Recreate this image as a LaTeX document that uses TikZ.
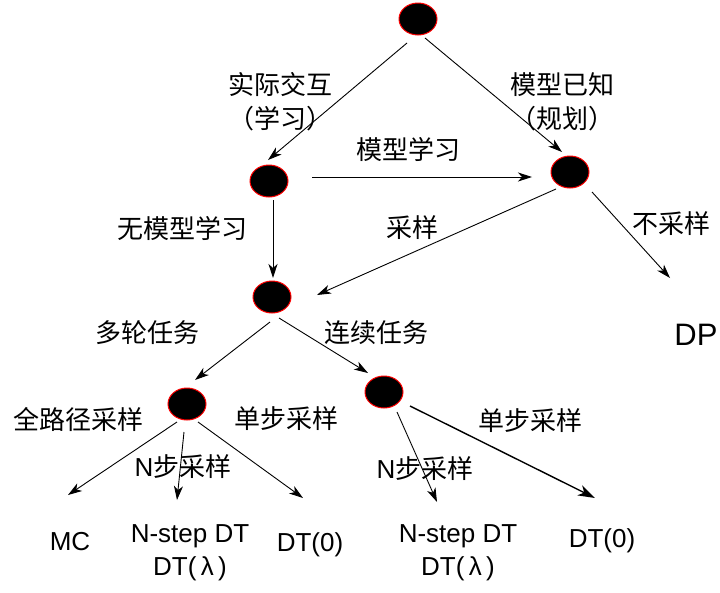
\documentclass[tikz,border=0pt]{standalone}
\usepackage{fontspec}
\setmainfont{Liberation Sans}
\newfontfamily\cjk{Noto Sans CJK SC}
\usetikzlibrary{shapes.geometric,arrows.meta}
\begin{document}
\begin{tikzpicture}[x=1pt,y=-1pt,
  state/.style={ellipse,draw=red,fill=black,line width=1pt,minimum width=38pt,minimum height=32pt,inner sep=0pt},
  lbl/.style={inner sep=0pt,font=\cjk\fontsize{26}{34}\selectfont,align=center},
  leaf/.style={inner sep=0pt,font=\fontsize{26}{33}\selectfont,align=center},
  arr/.style={line width=0.9pt,-{Stealth[length=14pt,width=9pt,inset=4pt]}},
  arrb/.style={line width=1.4pt,-{Stealth[length=17pt,width=11pt,inset=5pt]}}]
\useasboundingbox (0,0) rectangle (720,592);
% states
\node[state] (T) at (418,19) {};
\node[state] (L) at (269,181) {};
\node[state] (R) at (570,172) {};
\node[state] (M) at (272,297) {};
\node[state] (LL) at (187,404) {};
\node[state] (LR) at (384,392) {};
% leaves
\node[leaf] (MC) at (70,542) {MC};
\node[leaf] (NL) at (190,553) {N-step DT\\DT(\,λ\,)};
\node[leaf] (D0L) at (310,545) {DT(0)};
\node[leaf] (NR) at (458,553) {N-step DT\\DT(\,λ\,)};
\node[leaf] (D0R) at (602,541) {DT(0)};
\node[inner sep=0pt,font=\fontsize{31}{36}\selectfont] (DP) at (696,335) {DP};
% labels
\node[lbl] (l1) at (280,102) {实际交互\\（学习）};
\node[lbl] (l2) at (562,102) {模型已知\\（规划）};
\node[lbl] (l3) at (408,149) {模型学习};
\node[lbl] (l4) at (182,228) {无模型学习};
\node[lbl] (l5) at (412,228) {采样};
\node[lbl] (l6) at (671,224) {不采样};
\node[lbl] (l7) at (147,333) {多轮任务};
\node[lbl] (l8) at (376,333) {连续任务};
\node[lbl] (l9) at (78,419) {全路径采样};
\node[lbl] (l10) at (286,419) {单步采样};
\node[lbl] (l11) at (183,467) {{\fontspec{Liberation Sans}N}步采样};
\node[lbl] (l12) at (425,469) {{\fontspec{Liberation Sans}N}步采样};
\node[lbl] (l13) at (530,421) {单步采样};
% connectors
\draw[arr] ([shift={(-11,24)}]T.center) -- ([shift={(-1,-21)}]L.center);
\draw[arr] ([shift={(7,19)}]T.center) -- ([shift={(-8,-20)}]R.center);
\draw[arr] ([shift={(43,-4)}]L.center) -- ([shift={(-38,5)}]R.center);
\draw[arr] ([shift={(4,19)}]L.center) -- ([shift={(1,-19)}]M.center);
\draw[arr] ([shift={(-14,17)}]R.center) -- ([shift={(45,-2)}]M.center);
\draw[arr] ([shift={(22,20)}]R.center) -- ([shift={(-26,-57)}]DP.center);
\draw[arr] ([shift={(-2,25)}]M.center) -- ([shift={(8,-24)}]LL.center);
\draw[arr] ([shift={(7,21)}]M.center) -- ([shift={(-16,-19)}]LR.center);
\draw[arr] ([shift={(-10,18)}]LL.center) -- ([shift={(-2,-47)}]MC.center);
\draw[arr] ([shift={(-3,28)}]LL.center) -- ([shift={(-13,-53)}]NL.center);
\draw[arr] ([shift={(11,18)}]LL.center) -- ([shift={(-7,-47)}]D0L.center);
\draw[arr] ([shift={(13,20)}]LR.center) -- ([shift={(-21,-51)}]NR.center);
\draw[arrb] ([shift={(26,14)}]LR.center) -- ([shift={(-7,-43)}]D0R.center);
\end{tikzpicture}
\end{document}
